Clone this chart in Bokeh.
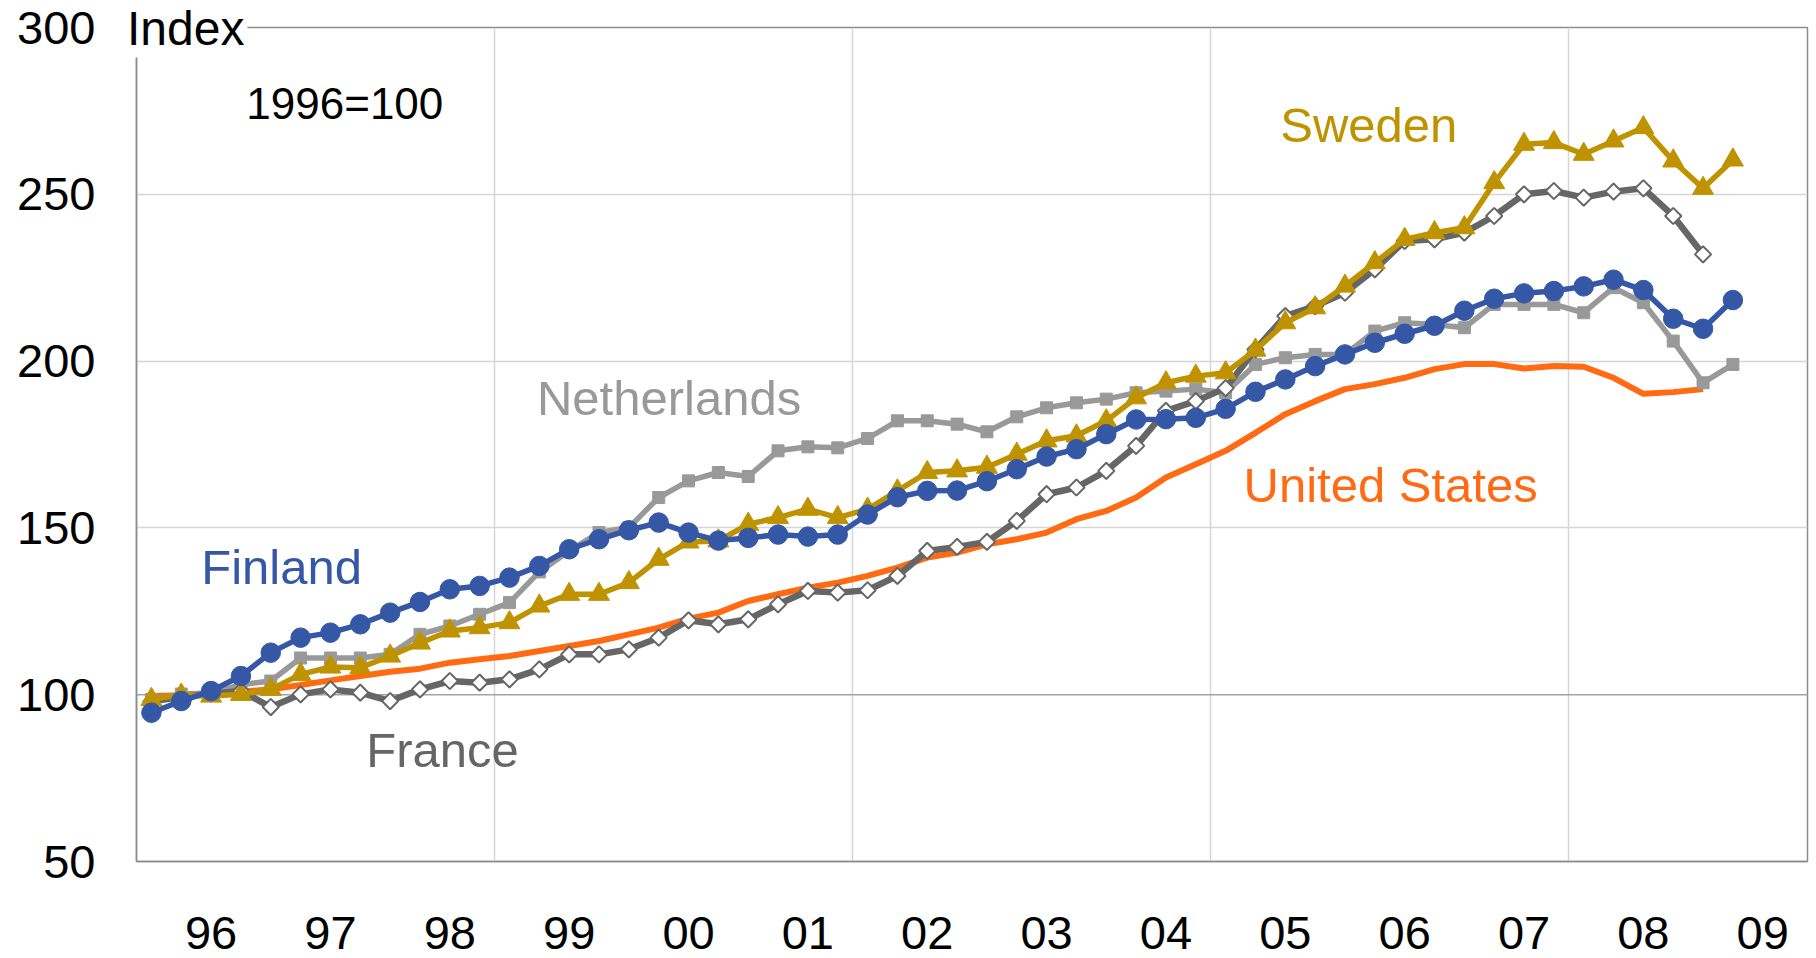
import numpy as np
from bokeh.plotting import figure
from bokeh.models import Range1d, FixedTicker, Label, Span
from bokeh.embed import file_html
from bokeh.resources import INLINE

# Quarterly house price index, 1996Q1 .. 2009Q2 (1996=100)
year_labels = ["96", "97", "98", "99", "00", "01", "02", "03", "04", "05", "06", "07", "08", "09"]

finland = [94.6, 98.1, 101.1, 105.6, 112.6, 117.1, 118.6, 121.1, 124.6, 127.8,
           131.6, 132.6, 135.1, 138.6, 143.6, 146.6, 149.3, 151.6, 148.6, 146.2,
           147.0, 148.0, 147.4, 148.0, 154.0, 159.2, 161.1, 161.2, 164.0, 167.6,
           171.4, 173.6, 178.1, 182.5, 182.6, 183.0, 185.7, 190.8, 194.5, 198.5,
           202.0, 205.5, 208.2, 210.6, 215.1, 218.7, 220.3, 221.0, 222.4, 224.4,
           221.3, 212.7, 209.7, 218.3]

sweden = [98.6, 99.9, 99.6, 100.1, 101.6, 106.1, 108.3, 108.1, 111.6, 115.5,
          119.1, 120.1, 121.6, 126.6, 130.1, 130.1, 133.6, 140.6, 145.8, 146.1,
          151.1, 153.1, 155.6, 153.1, 155.6, 161.1, 166.6, 167.1, 168.2, 172.1,
          176.1, 177.6, 182.1, 189.0, 193.5, 195.5, 196.5, 203.3, 211.5, 216.0,
          222.5, 229.5, 236.5, 238.5, 240.0, 253.5, 265.0, 265.5, 262.0, 266.0,
          270.0, 260.0, 251.8, 260.3]

netherlands = [98.6, 100.2, 100.5, 103.0, 104.1, 111.0, 111.0, 111.0, 112.1, 118.1,
               120.6, 124.1, 127.6, 136.8, 143.1, 148.6, 150.1, 159.1, 164.1, 166.6,
               165.4, 173.1, 174.3, 174.0, 176.8, 182.1, 182.1, 181.1, 178.8, 183.3,
               186.0, 187.5, 188.6, 190.5, 191.0, 191.6, 190.5, 199.0, 201.0, 202.0,
               202.0, 209.0, 211.5, 211.0, 210.0, 217.0, 217.0, 217.0, 214.5, 222.0,
               217.5, 206.0, 193.5, 199.0]

france = [98.0, 99.3, 100.3, 101.1, 96.3, 100.1, 101.6, 100.6, 98.1, 101.6,
          104.1, 103.6, 104.6, 107.6, 112.1, 112.1, 113.6, 117.1, 122.3, 121.1,
          122.6, 127.1, 131.1, 130.6, 131.3, 135.6, 143.1, 144.3, 145.8, 152.1,
          160.1, 162.1, 167.1, 174.6, 185.1, 188.0, 191.9, 203.5, 213.5, 216.5,
          220.5, 227.5, 236.0, 236.5, 238.5, 243.5, 250.0, 251.0, 249.0, 250.8,
          251.8, 243.5, 232.0]

united_states = [99.6, 99.8, 100.1, 100.9, 101.6, 102.9, 104.3, 105.6, 106.9, 107.8,
                 109.6, 110.6, 111.6, 113.1, 114.6, 116.1, 118.1, 120.1, 122.8, 124.6,
                 128.1, 130.1, 132.1, 133.6, 135.6, 138.1, 141.1, 142.6, 145.1, 146.6,
                 148.6, 152.6, 155.1, 159.1, 165.1, 169.1, 173.1, 178.5, 184.1, 188.0,
                 191.6, 193.1, 195.0, 197.6, 199.1, 199.1, 197.8, 198.5, 198.3, 195.0,
                 190.2, 190.7, 191.6]

FONT = "Liberation Sans"
C_FIN = "#3457A6"
C_SWE = "#BF9300"
C_NLD = "#999999"
C_FRA = "#666666"
C_USA = "#FF6A13"

n_quarters = 56  # axis spans 1996Q1 .. 2009Q4
p = figure(width=1816, height=958, output_backend="svg", toolbar_location=None,
           x_range=Range1d(-0.5, n_quarters - 0.5), y_range=Range1d(50, 300),
           min_border_left=136, min_border_right=9, min_border_top=27,
           min_border_bottom=97, title="Index")
p.background_fill_color = "white"
p.border_fill_color = "white"
p.outline_line_color = "#8C8C8C"
p.outline_line_width = 1.5

# "Index" unit label at the top-left corner (title, so it is not clipped)
p.title.text_font = FONT
p.title.text_font_size = "48px"
p.title.text_font_style = "normal"
p.title.text_color = "black"
p.title.align = "left"
p.title.offset = -12.5
p.title.vertical_align = "bottom"
p.title.standoff = -60
p.title.background_fill_color = "white"
p.title.padding = 3

# axes
p.yaxis.ticker = FixedTicker(ticks=[50, 100, 150, 200, 250, 300])
p.xaxis.ticker = FixedTicker(ticks=[2 + 4 * k for k in range(len(year_labels))])
p.xaxis.major_label_overrides = {2 + 4 * k: lab for k, lab in enumerate(year_labels)}
for ax in (p.xaxis[0], p.yaxis[0]):
    ax.major_tick_out = 0
    ax.major_tick_in = 0
    ax.minor_tick_out = 0
    ax.minor_tick_in = 0
    ax.axis_line_color = "#8C8C8C"
    ax.axis_line_width = 1.5
    ax.major_label_text_font = FONT
    ax.major_label_text_color = "black"
p.yaxis.major_label_text_font_size = "47px"
p.xaxis.major_label_text_font_size = "47px"
p.yaxis.major_label_standoff = 41
p.xaxis.major_label_standoff = 55

# grids
p.ygrid.ticker = FixedTicker(ticks=[50, 150, 200, 250, 300])
p.xgrid.ticker = FixedTicker(ticks=[11.5, 23.5, 35.5, 47.5])
for g in (p.xgrid[0], p.ygrid[0]):
    g.grid_line_color = "#D6D6D6"
    g.grid_line_width = 1.5
p.add_layout(Span(location=100, dimension="width", line_color="#A3A3A3",
                  line_width=1.5, level="underlay"))

x_all = list(range(len(finland)))

# United States (line only)
xu = x_all[:len(united_states)]
p.line(xu, united_states, line_color=C_USA, line_width=6)

# Netherlands
xn = x_all[:len(netherlands)]
p.line(xn, netherlands, line_color=C_NLD, line_width=5.5)
p.scatter(xn, netherlands, marker="square", size=12, fill_color=C_NLD, line_color=C_NLD)

# France
xf = x_all[:len(france)]
p.line(xf, france, line_color=C_FRA, line_width=6.5)
p.scatter(xf, france, marker="square", angle=np.pi / 4, size=11.5,
          fill_color="white", line_color=C_FRA, line_width=2)

# Sweden
xs = x_all[:len(sweden)]
p.line(xs, sweden, line_color=C_SWE, line_width=5.5)
p.scatter(xs, sweden, marker="triangle", size=21, fill_color=C_SWE, line_color=C_SWE)

# Finland
p.line(x_all, finland, line_color=C_FIN, line_width=5.5)
p.scatter(x_all, finland, marker="circle", size=19.5, fill_color=C_FIN, line_color=C_FIN)

# texts
def add_label(txt, x, y, color, size):
    p.add_layout(Label(x=x, y=y, text=txt, text_color=color, text_font=FONT,
                       text_font_size=size, text_baseline="alphabetic"))

add_label("Finland", 1.67, 138.2, C_FIN, "49px")
add_label("France", 7.2, 83.4, C_FRA, "49px")
add_label("Netherlands", 12.92, 188.9, C_NLD, "49px")
add_label("United States", 36.6, 162.9, C_USA, "49px")
add_label("Sweden", 37.83, 270.8, C_SWE, "49px")
add_label("1996=100", 3.18, 277.2, "black", "44px")

open("out.html", "w").write(file_html(p, INLINE))
